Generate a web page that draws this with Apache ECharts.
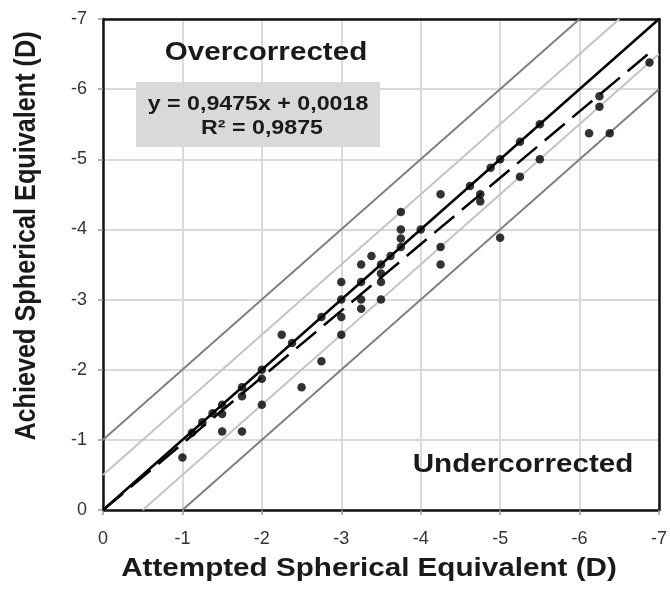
<!DOCTYPE html>
<html>
<head>
<meta charset="utf-8">
<script src="https://cdn.jsdelivr.net/npm/echarts@6/dist/echarts.min.js"></script>
<style>html,body{margin:0;padding:0;background:#fff}#c{width:670px;height:594px}</style>
</head>
<body>
<div id="c"></div>
<script>
// Attempted vs achieved spherical equivalent (D)
const attempted = [-1, -1.12, -1.25, -1.38, -1.5, -1.5, -1.5, -1.75, -1.75, -1.75,
  -2, -2, -2, -2.25, -2.38, -2.5, -2.75, -2.75, -3, -3, -3, -3,
  -3.25, -3.25, -3.25, -3.25, -3.38, -3.5, -3.5, -3.5, -3.5, -3.62,
  -3.75, -3.75, -3.75, -3.75, -4, -4.25, -4.25, -4.25, -4.62, -4.75, -4.75,
  -4.88, -5, -5, -5.25, -5.25, -5.5, -5.5, -6.12, -6.38, -6.25, -6.25, -6.88];
const achieved = [-0.75, -1.1, -1.25, -1.38, -1.5, -1.37, -1.12, -1.12, -1.75, -1.62,
  -2, -1.87, -1.5, -2.5, -2.38, -1.75, -2.75, -2.12, -3.25, -3, -2.75, -2.5,
  -3.5, -3.25, -3.0, -2.87, -3.62, -3.5, -3.37, -3.25, -3.0, -3.62,
  -4.25, -4.0, -3.87, -3.75, -4, -4.5, -3.75, -3.5, -4.62, -4.5, -4.4,
  -4.88, -5, -3.88, -5.25, -4.75, -5.5, -5.0, -5.37, -5.37, -5.9, -5.75, -6.38];
const axisTicks = [0, -1, -2, -3, -4, -5, -6, -7];
const bandOffsets = [0.5, 1];           // +/- 0.5 D and +/- 1 D bands
const regSlope = 0.9475, regIntercept = 0.0018;
const regXRange = [0, -6.88];
const eqText = ['y = 0,9475x + 0,0018', 'R² = 0,9875'];
const labels = { over: 'Overcorrected', under: 'Undercorrected',
  xName: 'Attempted Spherical Equivalent (D)', yName: 'Achieved Spherical Equivalent (D)' };

const axMin = Math.min.apply(null, axisTicks), axMax = Math.max.apply(null, axisTicks);
function band(off) { // y = x - off (over) ; clipped to axis range
  return [[axMax, axMax - off], [axMin + off, axMin]];
}
function bandLow(off) { // y = x + off
  return [[axMax - off, axMax], [axMin, axMin + off]];
}
const pts = attempted.map((x, i) => [x, achieved[i]]);
const regLine = regXRange.map(x => [x, regSlope * x + regIntercept]);

const FONT = '"Liberation Sans", Arial, Helvetica, sans-serif';
const lineSeries = (data, color, width, type, z) => ({
  type: 'line', data, showSymbol: false, symbol: 'none', silent: true, z: z || 2,
  lineStyle: { color, width, type: type || 'solid' }, animation: false
});

const chart = echarts.init(document.getElementById('c'));
const baseAxis = { type: 'value', min: axMin, max: axMax, interval: 1, inverse: true };
chart.setOption({
  animation: false,
  grid: { left: 103, right: 8, top: 19, bottom: 84, containLabel: false },
  xAxis: [
    Object.assign({}, baseAxis, {
      position: 'bottom',
      axisLine: { show: true, onZero: false, lineStyle: { color: '#111', width: 2.5 } },
      axisTick: { show: true, length: 5, lineStyle: { color: '#999', width: 1.5 } },
      axisLabel: { fontSize: 18, color: '#333', fontFamily: FONT, margin: 20 },
      splitLine: { show: true, lineStyle: { color: '#dadada', width: 2 } }
    }),
    Object.assign({}, baseAxis, {
      position: 'top',
      axisLine: { show: true, onZero: false, lineStyle: { color: '#111', width: 2.5 } },
      axisTick: { show: false }, axisLabel: { show: false }, splitLine: { show: false }
    })
  ],
  yAxis: [
    Object.assign({}, baseAxis, {
      position: 'left',
      axisLine: { show: true, onZero: false, lineStyle: { color: '#111', width: 2.5 } },
      axisTick: { show: true, length: 5, lineStyle: { color: '#999', width: 1.5 } },
      axisLabel: { fontSize: 18, color: '#333', fontFamily: FONT, margin: 16 },
      splitLine: { show: true, lineStyle: { color: '#dadada', width: 2 } }
    }),
    Object.assign({}, baseAxis, {
      position: 'right',
      axisLine: { show: true, onZero: false, lineStyle: { color: '#111', width: 2.5 } },
      axisTick: { show: false }, axisLabel: { show: false }, splitLine: { show: false }
    })
  ],
  series: [
    lineSeries(band(bandOffsets[1]), '#7f7f7f', 2),
    lineSeries(bandLow(bandOffsets[1]), '#7f7f7f', 2),
    lineSeries(band(bandOffsets[0]), '#c4c4c4', 2),
    lineSeries(bandLow(bandOffsets[0]), '#c4c4c4', 2),
    lineSeries([[axMax, axMax], [axMin, axMin]], '#000', 2.5, 'solid', 3),
    lineSeries(regLine, '#000', 2.5, [26, 10], 3),
    { type: 'scatter', data: pts, symbolSize: 8.5, itemStyle: { color: '#000' }, z: 5, silent: true }
  ],
  graphic: [
    { type: 'rect', left: 136, top: 82, shape: { width: 244, height: 65 }, style: { fill: '#d9d9d9' }, z: 10 },
    { type: 'text', x: 258, y: 104, scaleX: 1.16, z: 11,
      style: { text: eqText[0], font: 'bold 20px ' + FONT, fill: '#1a1a1a', align: 'center', verticalAlign: 'middle' } },
    { type: 'text', x: 262, y: 128, scaleX: 1.16, z: 11,
      style: { text: eqText[1], font: 'bold 20px ' + FONT, fill: '#1a1a1a', align: 'center', verticalAlign: 'middle' } },
    { type: 'text', x: 266, y: 53, scaleX: 1.14, z: 11,
      style: { text: labels.over, font: 'bold 26px ' + FONT, fill: '#1a1a1a', align: 'center', verticalAlign: 'middle' } },
    { type: 'text', x: 523, y: 465, scaleX: 1.14, z: 11,
      style: { text: labels.under, font: 'bold 26px ' + FONT, fill: '#1a1a1a', align: 'center', verticalAlign: 'middle' } },
    { type: 'text', x: 369, y: 569, scaleX: 1.14, z: 11,
      style: { text: labels.xName, font: 'bold 26px ' + FONT, fill: '#1a1a1a', align: 'center', verticalAlign: 'middle' } },
    { type: 'text', x: 27, y: 236, rotation: Math.PI / 2, scaleX: 0.97, scaleY: 1.1, z: 11,
      style: { text: labels.yName, font: 'bold 26px ' + FONT, fill: '#1a1a1a', align: 'center', verticalAlign: 'middle' } }
  ]
});
</script>
</body>
</html>
